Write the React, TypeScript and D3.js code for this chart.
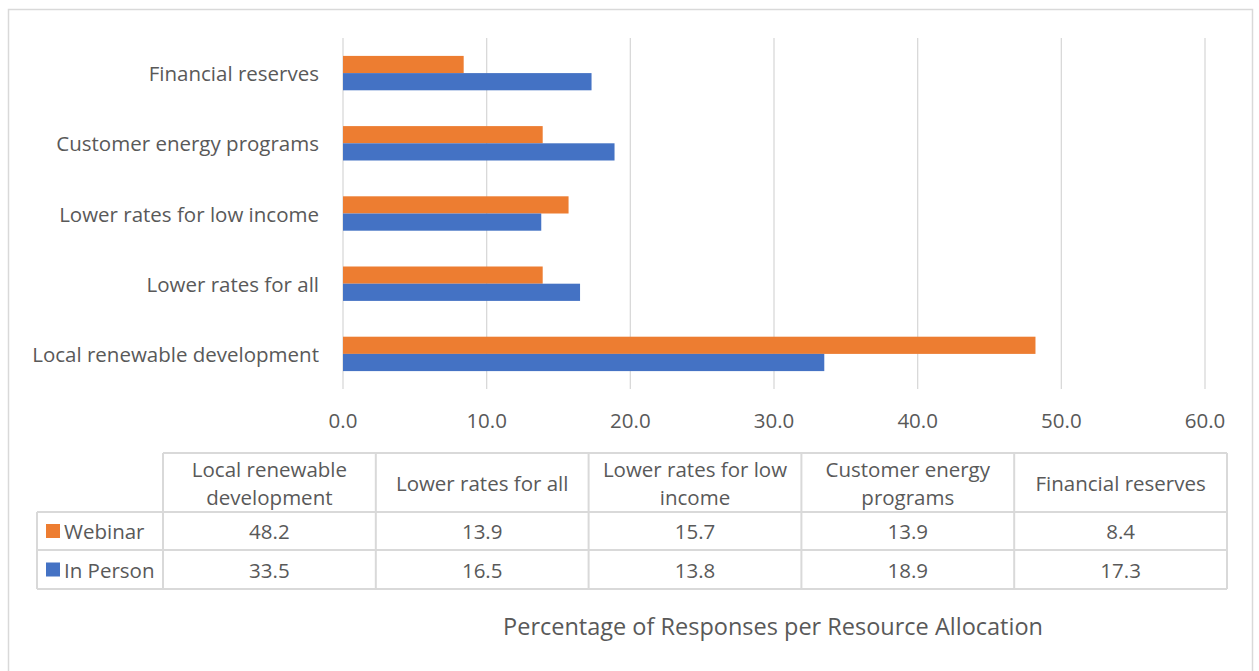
import React from "react";
import * as d3 from "d3";

const categories = [
  "Local renewable development",
  "Lower rates for all",
  "Lower rates for low income",
  "Customer energy programs",
  "Financial reserves",
];
const headerLines = [
  ["Local renewable", "development"],
  ["Lower rates for all"],
  ["Lower rates for low", "income"],
  ["Customer energy", "programs"],
  ["Financial reserves"],
];
const webinar = [48.2, 13.9, 15.7, 13.9, 8.4];
const inPerson = [33.5, 16.5, 13.8, 18.9, 17.3];
const seriesNames = ["Webinar", "In Person"];
const seriesColors = ["#ED7D31", "#4472C4"];
const xTicks = [0, 10, 20, 30, 40, 50, 60];
const axisTitle = "Percentage of Responses per Resource Allocation";

const W = 1259;
const H = 671;
const FONT = "'Open Sans', 'Noto Sans', sans-serif";
const TEXT = "#595959";
const GRID = "#d9d9d9";
const FS = 20.5;

export default function App() {
  const plot = { left: 343, right: 1205, top: 38, bottom: 389 };
  const x = d3.scaleLinear().domain([0, 60]).range([plot.left, plot.right]);
  // categories drawn bottom-to-top, as in a spreadsheet bar chart
  const y = d3
    .scaleBand<string>()
    .domain([...categories].reverse())
    .range([plot.top, plot.bottom])
    .paddingInner(0.51)
    .paddingOuter(0.255);
  const inner = d3
    .scaleBand<number>()
    .domain([0, 1])
    .range([0, y.bandwidth()]);
  const series = [webinar, inPerson];

  // data table geometry
  const tLeft = 37;
  const tColStart = 163;
  const tRight = 1227;
  const colW = (tRight - tColStart) / categories.length;
  const rowY = [453, 512, 550, 589];

  return (
    <svg
      width={W}
      height={H}
      style={{ position: "absolute", left: 0, top: 0, background: "#fff" }}
      fontFamily={FONT}
    >
      <rect x={0} y={0} width={W} height={H} fill="#fff" />
      <rect
        x={8.5}
        y={9.5}
        width={1244}
        height={700}
        fill="none"
        stroke={GRID}
        strokeWidth={1.5}
      />

      {/* vertical gridlines */}
      {xTicks.map((t) => (
        <line
          key={"g" + t}
          x1={x(t)}
          x2={x(t)}
          y1={plot.top}
          y2={plot.bottom}
          stroke={GRID}
          strokeWidth={1.3}
        />
      ))}

      {/* bars */}
      {categories.map((c, i) =>
        series.map((s, k) => (
          <rect
            key={c + k}
            x={x(0)}
            y={(y(c) as number) + (inner(k) as number)}
            width={x(s[i]) - x(0)}
            height={inner.bandwidth()}
            fill={seriesColors[k]}
          />
        ))
      )}

      {/* category labels */}
      {categories.map((c) => (
        <text
          key={"l" + c}
          x={319}
          y={(y(c) as number) + y.bandwidth() / 2}
          textAnchor="end"
          dominantBaseline="central"
          fontSize={FS}
          fill={TEXT}
        >
          {c}
        </text>
      ))}

      {/* x tick labels */}
      {xTicks.map((t) => (
        <text
          key={"t" + t}
          x={x(t)}
          y={420}
          textAnchor="middle"
          dominantBaseline="central"
          fontSize={FS}
          fill={TEXT}
        >
          {d3.format(".1f")(t)}
        </text>
      ))}

      {/* data table */}
      <g stroke={GRID} strokeWidth={2} fill="none">
        <line x1={tColStart} x2={tRight} y1={rowY[0]} y2={rowY[0]} />
        {rowY.slice(1).map((ry) => (
          <line key={"r" + ry} x1={tLeft} x2={tRight} y1={ry} y2={ry} />
        ))}
        <line x1={tLeft} x2={tLeft} y1={rowY[1]} y2={rowY[3]} />
        {d3.range(categories.length + 1).map((j) => (
          <line
            key={"c" + j}
            x1={tColStart + j * colW}
            x2={tColStart + j * colW}
            y1={rowY[0]}
            y2={rowY[3]}
          />
        ))}
      </g>
      {headerLines.map((lines, j) => (
        <text
          key={"h" + j}
          x={tColStart + (j + 0.5) * colW}
          textAnchor="middle"
          fontSize={FS}
          fill={TEXT}
        >
          {lines.map((ln, li) => (
            <tspan
              key={li}
              x={tColStart + (j + 0.5) * colW}
              y={
                (rowY[0] + rowY[1]) / 2 +
                (li - (lines.length - 1) / 2) * 28
              }
              dominantBaseline="central"
            >
              {ln}
            </tspan>
          ))}
        </text>
      ))}
      {series.map((s, k) => {
        const cy = (rowY[k + 1] + rowY[k + 2]) / 2;
        return (
          <g key={"row" + k}>
            <rect x={46} y={cy - 7} width={14} height={14} fill={seriesColors[k]} />
            <text
              x={64}
              y={cy}
              dominantBaseline="central"
              fontSize={FS}
              fill={TEXT}
            >
              {seriesNames[k]}
            </text>
            {s.map((v, j) => (
              <text
                key={j}
                x={tColStart + (j + 0.5) * colW}
                y={cy}
                textAnchor="middle"
                dominantBaseline="central"
                fontSize={FS}
                fill={TEXT}
              >
                {d3.format(".1f")(v)}
              </text>
            ))}
          </g>
        );
      })}

      {/* axis title */}
      <text
        x={773}
        y={626}
        textAnchor="middle"
        dominantBaseline="central"
        fontSize={23.5}
        fill={TEXT}
      >
        {axisTitle}
      </text>
    </svg>
  );
}
